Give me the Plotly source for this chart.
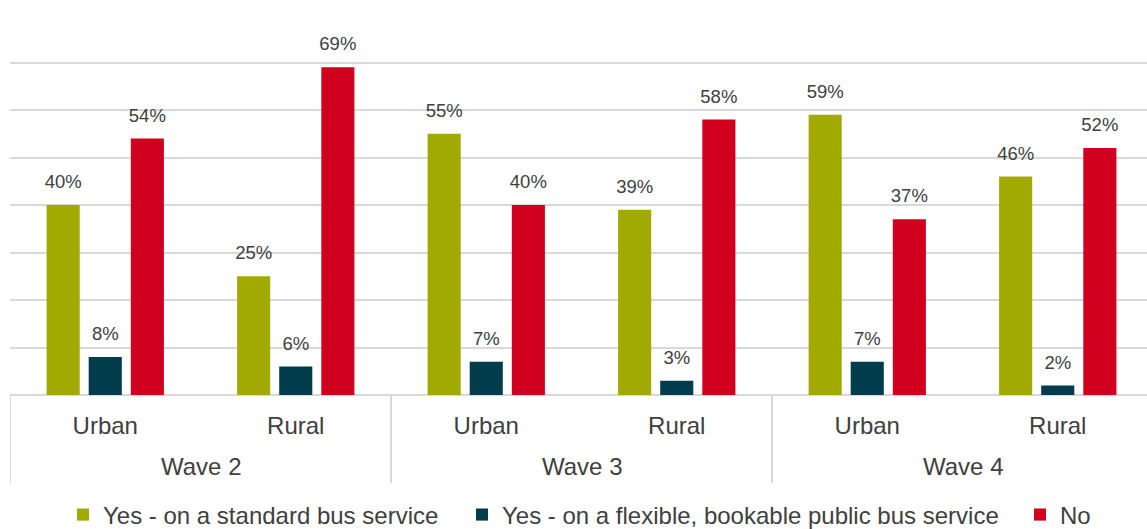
import plotly.graph_objects as go

# Survey waves and area types
wave_names = ["Wave 2", "Wave 3", "Wave 4"]
areas = ["Urban", "Rural", "Urban", "Rural", "Urban", "Rural"]

# Percentage of respondents per answer
standard_bus = [40, 25, 55, 39, 59, 46]
flexible_bus = [8, 6, 7, 3, 7, 2]
no_bus = [54, 69, 40, 58, 37, 52]

series_names = [
    "Yes - on a standard bus service",
    "Yes - on a flexible, bookable public bus service",
    "No",
]
series_values = [standard_bus, flexible_bus, no_bus]
series_colors = ["#A0AA00", "#003C4B", "#D0001E"]

FONT = "Liberation Sans, Arial, sans-serif"
TEXT_COLOR = "#404040"
GRID = "#D9D9D9"

# one slot per (wave, area) pair on the x axis
x_pos = list(range(len(areas)))
per_wave = len(areas) // len(wave_names)

fig = go.Figure()

legend_ids = ["legend", "legend2", "legend3"]
for name, vals, color, lg in zip(series_names, series_values, series_colors, legend_ids):
    fig.add_trace(go.Bar(
        x=x_pos, y=vals, name=name, legend=lg,
        marker=dict(color=color, line=dict(width=0)),
        hoverinfo="skip",
    ))

# Value labels above each bar, grouped the same way as the bars
for name, vals in zip(series_names, series_values):
    fig.add_trace(go.Scatter(
        x=x_pos, y=vals, mode="markers+text",
        text=[f"{v}%" for v in vals],
        textposition="top center",
        textfont=dict(family=FONT, size=18.5, color=TEXT_COLOR),
        marker=dict(size=18, opacity=0),
        showlegend=False, hoverinfo="skip", cliponaxis=False,
    ))

# Wave labels centred under their pair of categories
for i, wave in enumerate(wave_names):
    centre = sum(x_pos[i * per_wave:(i + 1) * per_wave]) / per_wave
    fig.add_annotation(
        x=centre, xref="x", y=-72 / 380, yref="paper",
        text=wave, showarrow=False, yanchor="middle",
        font=dict(family=FONT, size=24, color=TEXT_COLOR),
    )

# Vertical dividers between waves
for k in range(len(wave_names) + 1):
    xb = x_pos[0] - 0.5 + k * per_wave
    fig.add_shape(
        type="line", xref="x", yref="paper",
        x0=xb, x1=xb, y0=0, y1=-88 / 380,
        line=dict(color=GRID, width=2),
    )

legend_common = dict(
    orientation="h", yanchor="middle", y=-120 / 380, xanchor="left",
    font=dict(family=FONT, size=24, color=TEXT_COLOR),
    itemwidth=30, bgcolor="rgba(0,0,0,0)",
)

fig.update_layout(
    width=1147, height=529,
    margin=dict(l=10, r=0, t=15, b=134, autoexpand=False),
    paper_bgcolor="white", plot_bgcolor="white",
    barmode="group", bargap=0.337, bargroupgap=0.214,
    scattermode="group", scattergap=0.337,
    font=dict(family=FONT, size=24, color=TEXT_COLOR),
    showlegend=True,
    legend=dict(legend_common, x=(85 - 22 - 10) / 1137),
    legend2=dict(legend_common, x=(484 - 22 - 10) / 1137),
    legend3=dict(legend_common, x=(1042 - 22 - 10) / 1137),
    xaxis=dict(
        range=[-0.5, 5.4685], automargin=False,
        tickmode="array", tickvals=x_pos, ticktext=areas,
        showgrid=False, showline=False, zeroline=False,
        ticks="outside", ticklen=9, tickcolor="rgba(0,0,0,0)",
        tickfont=dict(family=FONT, size=24, color=TEXT_COLOR),
        fixedrange=True,
    ),
    yaxis=dict(
        range=[0, 80], dtick=10, showticklabels=False, automargin=False,
        showgrid=True, gridcolor=GRID, gridwidth=2,
        zeroline=True, zerolinecolor=GRID, zerolinewidth=2,
        fixedrange=True,
    ),
)

fig.write_html("out.html")
